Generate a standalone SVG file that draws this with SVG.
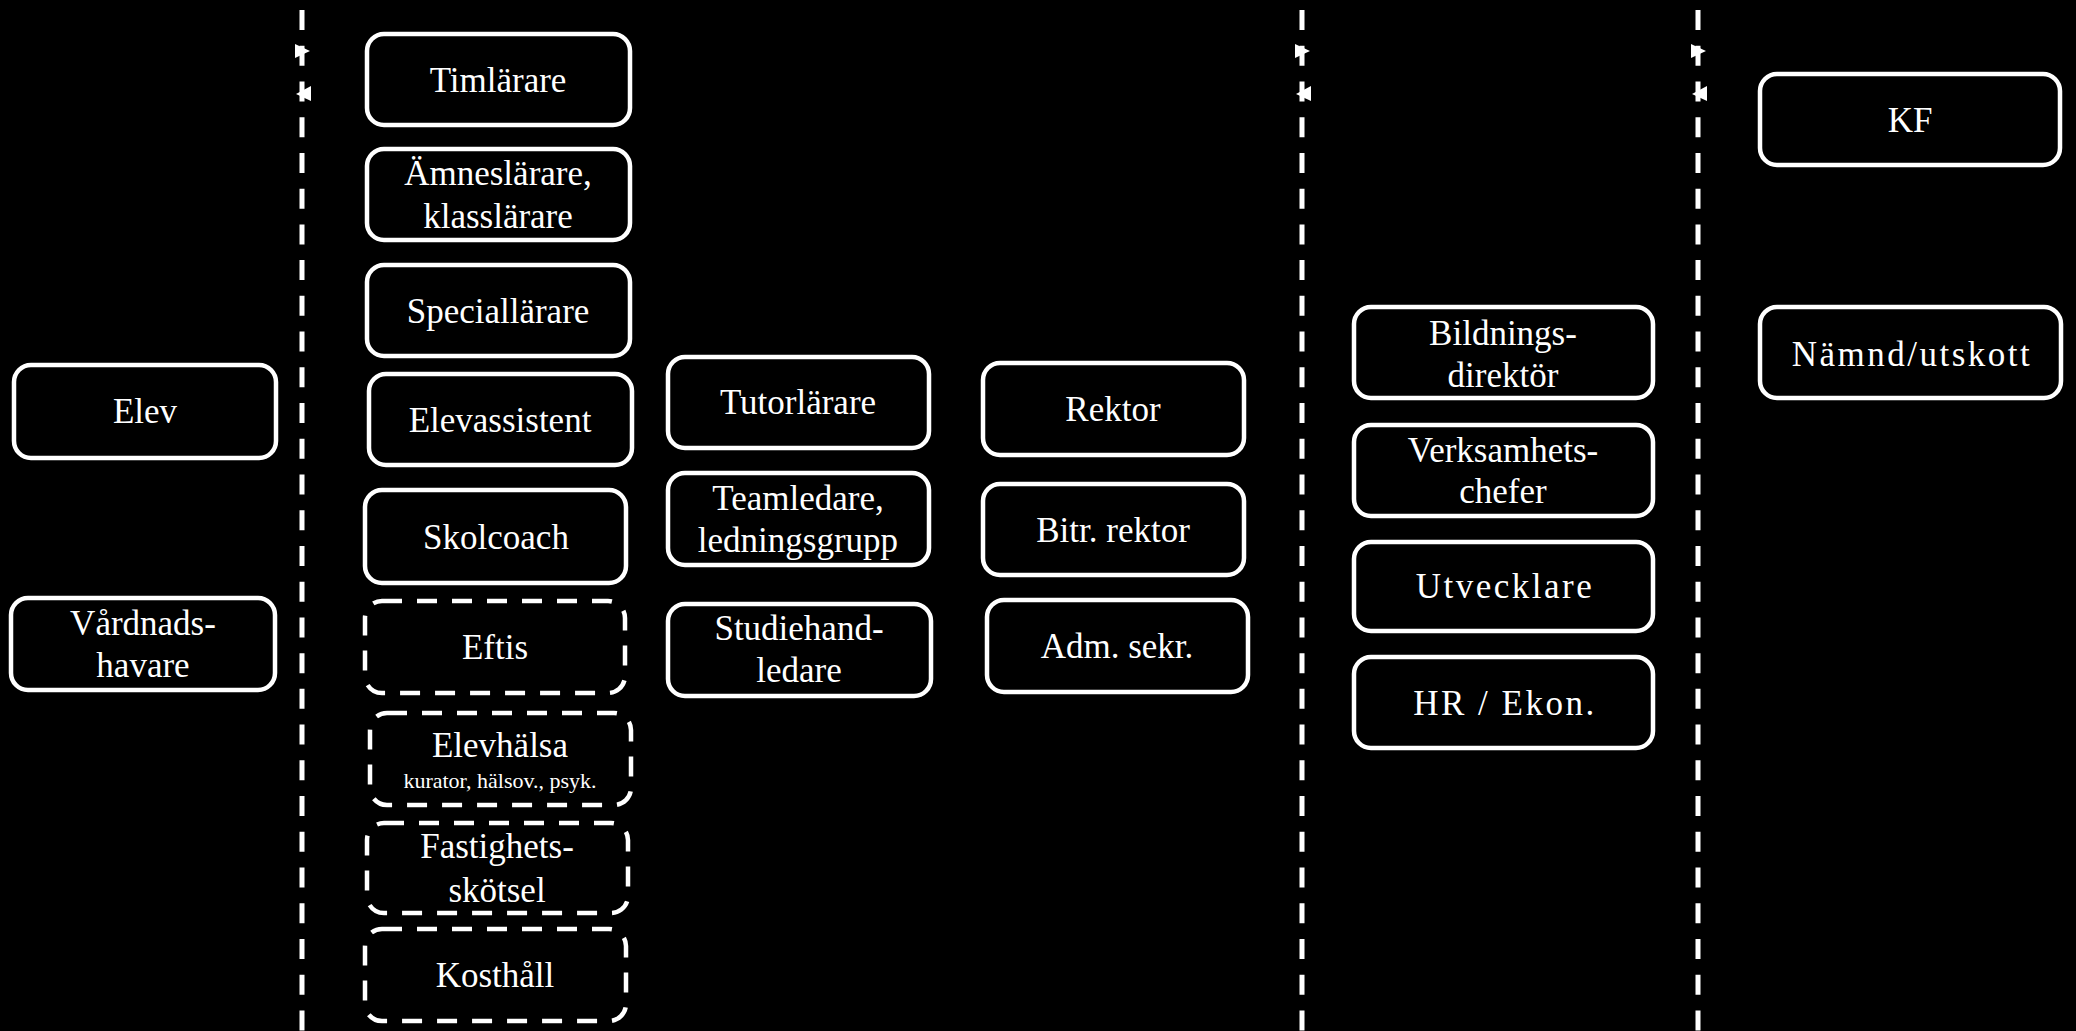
<svg xmlns="http://www.w3.org/2000/svg" width="2076" height="1031" viewBox="0 0 2076 1031">
<style>
.bg{fill:#000}
.n rect{fill:#000;stroke:#fff;stroke-width:4.5}
.n.d rect{stroke-dasharray:20 15}
.t{fill:#fff;font-family:"Liberation Serif","DejaVu Serif",serif;font-size:35px;text-anchor:middle}
.s{font-size:22px}
.w{letter-spacing:2.5px}
.sep{stroke:#fff;stroke-width:5;stroke-dasharray:20 15.73;fill:none}
.ah{fill:#fff}
</style>
<defs>
<path id="aR" class="ah" d="M-7,44 L8,51 L-7,58 Z"/>
<path id="aL" class="ah" d="M9,86 L-6,94 L9,101 Z"/>
</defs>
<rect class="bg" x="0" y="0" width="2076" height="1031"/>
<g id="connectors">
<line class="sep" x1="302" y1="10" x2="302" y2="1031"/>
<line class="sep" x1="1302" y1="10" x2="1302" y2="1031"/>
<line class="sep" x1="1698" y1="10" x2="1698" y2="1031"/>
<use href="#aR" x="302"/><use href="#aL" x="302"/>
<use href="#aR" x="1302"/><use href="#aL" x="1302"/>
<use href="#aR" x="1698"/><use href="#aL" x="1698"/>
</g>
<g id="elev" class="n"><rect x="14" y="365" width="262" height="93" rx="17"/><text class="t" x="145" y="423">Elev</text></g>
<g id="vardnadshavare" class="n"><rect x="11" y="598" width="264" height="92" rx="17"/><text class="t" x="143" y="635">Vårdnads-</text><text class="t" x="143" y="677">havare</text></g>
<g id="timlarare" class="n"><rect x="367" y="34" width="263" height="91" rx="17"/><text class="t" x="498" y="92">Timlärare</text></g>
<g id="amneslarare" class="n"><rect x="367" y="149" width="263" height="91" rx="17"/><text class="t" x="498" y="185">Ämneslärare,</text><text class="t" x="498" y="228">klasslärare</text></g>
<g id="speciallarare" class="n"><rect x="367" y="265" width="263" height="91" rx="17"/><text class="t" x="498" y="323">Speciallärare</text></g>
<g id="elevassistent" class="n"><rect x="369" y="374" width="263" height="91" rx="17"/><text class="t" x="500" y="432">Elevassistent</text></g>
<g id="skolcoach" class="n"><rect x="365" y="490" width="261" height="93" rx="17"/><text class="t" x="496" y="549">Skolcoach</text></g>
<g id="eftis" class="n d"><rect x="365" y="601" width="260" height="92" rx="17"/><text class="t" x="495" y="659">Eftis</text></g>
<g id="elevhalsa" class="n d"><rect x="370" y="713" width="261" height="92" rx="17"/><text class="t" x="500" y="757">Elevhälsa</text><text class="t s" x="500" y="788">kurator, hälsov., psyk.</text></g>
<g id="fastighetsskotsel" class="n d"><rect x="367" y="823" width="261" height="90" rx="17"/><text class="t" x="497" y="858">Fastighets-</text><text class="t" x="497" y="902">skötsel</text></g>
<g id="kosthall" class="n d"><rect x="365" y="929" width="261" height="92" rx="17"/><text class="t" x="495" y="987">Kosthåll</text></g>
<g id="tutorlarare" class="n"><rect x="668" y="357" width="261" height="91" rx="17"/><text class="t" x="798" y="414">Tutorlärare</text></g>
<g id="teamledare" class="n"><rect x="668" y="473" width="261" height="92" rx="17"/><text class="t" x="798" y="510">Teamledare,</text><text class="t" x="798" y="552">ledningsgrupp</text></g>
<g id="studiehandledare" class="n"><rect x="668" y="604" width="263" height="92" rx="17"/><text class="t" x="799" y="640">Studiehand-</text><text class="t" x="799" y="682">ledare</text></g>
<g id="rektor" class="n"><rect x="983" y="363" width="261" height="92" rx="17"/><text class="t" x="1113" y="421">Rektor</text></g>
<g id="bitr-rektor" class="n"><rect x="983" y="484" width="261" height="91" rx="17"/><text class="t" x="1113" y="542">Bitr. rektor</text></g>
<g id="adm-sekr" class="n"><rect x="987" y="600" width="261" height="92" rx="17"/><text class="t" x="1117" y="658">Adm. sekr.</text></g>
<g id="bildningsdirektor" class="n"><rect x="1354" y="307" width="299" height="91" rx="17"/><text class="t" x="1503" y="345">Bildnings-</text><text class="t" x="1503" y="387">direktör</text></g>
<g id="verksamhetschefer" class="n"><rect x="1354" y="425" width="299" height="91" rx="17"/><text class="t" x="1503" y="462">Verksamhets-</text><text class="t" x="1503" y="503">chefer</text></g>
<g id="utvecklare" class="n"><rect x="1354" y="542" width="299" height="89" rx="17"/><text class="t w" x="1505" y="598">Utvecklare</text></g>
<g id="hr-ekon" class="n"><rect x="1354" y="657" width="299" height="91" rx="17"/><text class="t w" x="1505" y="715">HR / Ekon.</text></g>
<g id="kf" class="n"><rect x="1760" y="74" width="300" height="91" rx="17"/><text class="t" x="1910" y="132">KF</text></g>
<g id="namnd-utskott" class="n"><rect x="1760" y="307" width="301" height="91" rx="17"/><text class="t w" x="1912" y="366">Nämnd/utskott</text></g>
</svg>
